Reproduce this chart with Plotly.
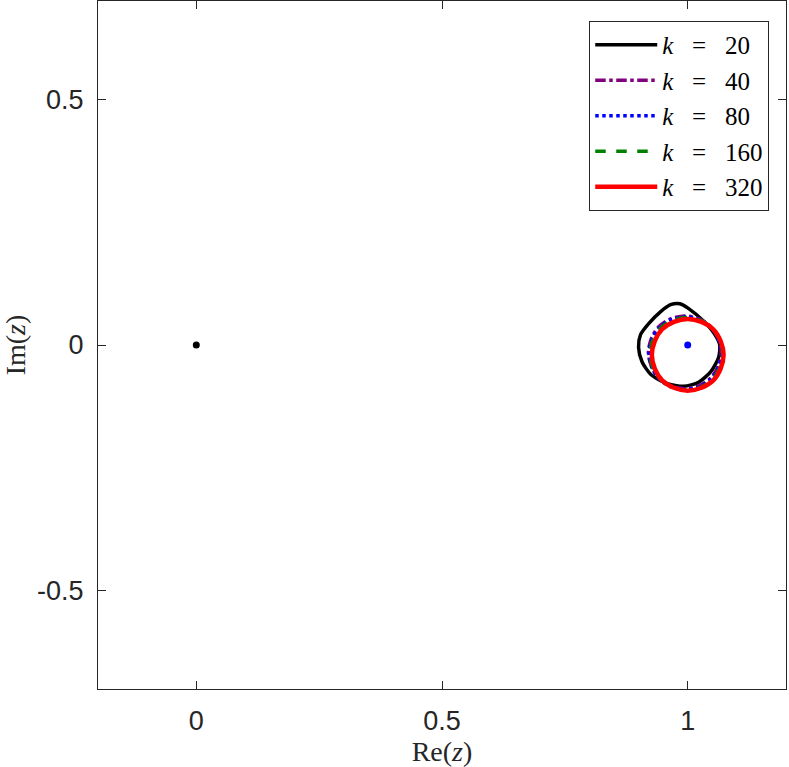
import plotly.graph_objects as go

# k = 20 contour
re_k20 = [0.984, 1.002, 1.033, 1.053, 1.065, 1.063, 1.047, 1.022, 0.992, 0.957,
          0.925, 0.907, 0.900, 0.904, 0.921, 0.945, 0.965, 0.984]
im_k20 = [0.084, 0.074, 0.048, 0.025, 0.001, -0.025, -0.054, -0.076, -0.084, -0.078,
          -0.060, -0.034, -0.005, 0.021, 0.044, 0.068, 0.082, 0.084]

# k = 40 contour
re_k40 = [1.068, 1.062, 1.047, 1.023, 0.994, 0.965, 0.941, 0.926, 0.920, 0.926,
          0.941, 0.965, 0.994, 1.023, 1.047, 1.062, 1.068]
im_k40 = [-0.015, 0.013, 0.037, 0.053, 0.059, 0.053, 0.037, 0.013, -0.015, -0.043,
          -0.067, -0.083, -0.089, -0.083, -0.067, -0.043, -0.015]

# k = 80 contour
re_k80 = [1.069, 1.063, 1.048, 1.024, 0.995, 0.966, 0.942, 0.927, 0.921, 0.927,
          0.942, 0.966, 0.995, 1.024, 1.048, 1.063, 1.069]
im_k80 = [-0.017, 0.011, 0.035, 0.051, 0.057, 0.051, 0.035, 0.011, -0.017, -0.045,
          -0.069, -0.085, -0.091, -0.085, -0.069, -0.045, -0.017]

# k = 160 contour
re_k160 = [1.071, 1.065, 1.050, 1.026, 0.997, 0.968, 0.944, 0.929, 0.923, 0.929,
           0.944, 0.968, 0.997, 1.026, 1.050, 1.065, 1.071]
im_k160 = [-0.018, 0.010, 0.034, 0.050, 0.056, 0.050, 0.034, 0.010, -0.018, -0.046,
           -0.070, -0.086, -0.092, -0.086, -0.070, -0.046, -0.018]

# k = 320 contour
re_k320 = [1.073, 1.067, 1.052, 1.028, 1.000, 0.972, 0.948, 0.933, 0.927, 0.933,
           0.948, 0.972, 1.000, 1.028, 1.052, 1.067, 1.073]
im_k320 = [-0.020, 0.008, 0.032, 0.047, 0.053, 0.047, 0.032, 0.008, -0.020, -0.048,
           -0.072, -0.087, -0.093, -0.087, -0.072, -0.048, -0.020]

# special points
pt_black = (0.0, 0.0)
pt_blue = (1.0, 0.0)

x_ticks = [0, 0.5, 1]
x_labels = ["0", "0.5", "1"]
y_ticks = [-0.5, 0, 0.5]
y_labels = ["-0.5", "0", "0.5"]

fig = go.Figure()

fig.add_trace(go.Scatter(x=[pt_black[0]], y=[pt_black[1]], mode="markers",
                         marker=dict(color="black", size=7), showlegend=False))
fig.add_trace(go.Scatter(x=[pt_blue[0]], y=[pt_blue[1]], mode="markers",
                         marker=dict(color="blue", size=7), showlegend=False))

NB = "&nbsp;"
series = [
    (re_k20, im_k20, "20", "black", "solid", 3.5, 0.7),
    (re_k40, im_k40, "40", "#800080", "dashdot", 3.5, 0.9),
    (re_k80, im_k80, "80", "blue", "dot", 3.5, 0.9),
    (re_k160, im_k160, "160", "#008000", "dash", 3.5, 0.9),
    (re_k320, im_k320, "320", "red", "solid", 4.5, 0.9),
]
for xs, ys, kval, col, dash, w, sm in series:
    name = "<i>k</i>" + NB * 3 + "=" + NB * 3 + kval
    fig.add_trace(go.Scatter(x=xs, y=ys, mode="lines", name=name,
                             line=dict(color=col, dash=dash, width=w,
                                       shape="spline", smoothing=sm)))

axis_common = dict(showline=True, linecolor="#262626", linewidth=1, mirror="ticks",
                   ticks="inside", ticklen=8, tickcolor="#262626", showgrid=False,
                   zeroline=False,
                   tickfont=dict(family="Liberation Sans, Arial", size=27, color="#262626"))

fig.update_xaxes(range=[-0.2, 1.2], tickvals=x_ticks, ticktext=x_labels,
                 ticklabelstandoff=8,
                 title=dict(text="Re(<i>z</i>)",
                            font=dict(family="Liberation Serif, serif", size=28, color="#262626"),
                            standoff=0),
                 **axis_common)
fig.update_yaxes(range=[-0.7, 0.7], tickvals=y_ticks, ticktext=y_labels,
                 ticklabelstandoff=8,
                 title=dict(text="Im(<i>z</i>)",
                            font=dict(family="Liberation Serif, serif", size=28, color="#262626"),
                            standoff=6),
                 **axis_common)

fig.update_layout(
    width=789, height=767,
    margin=dict(l=98, r=3, t=1, b=78, autoexpand=False),
    plot_bgcolor="white", paper_bgcolor="white",
    legend=dict(x=0.714, y=0.971, xanchor="left", yanchor="top",
                bgcolor="white", bordercolor="#262626", borderwidth=1,
                font=dict(family="Liberation Serif, serif", size=25, color="black"),
                itemwidth=62),
)

fig.write_html("out.html", config={"displayModeBar": False},
               post_script="document.body.style.margin='0';document.body.style.overflow='hidden';")
